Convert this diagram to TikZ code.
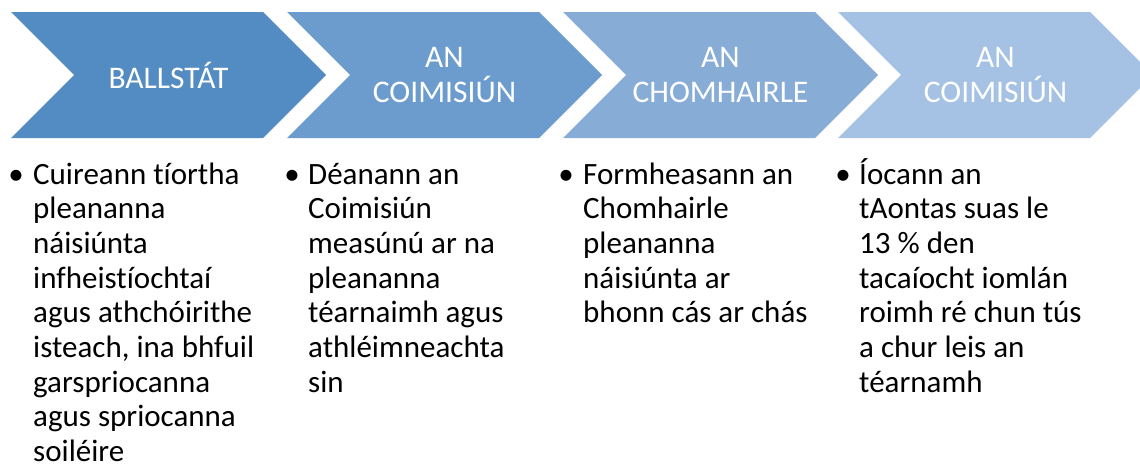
\documentclass[tikz,border=0pt]{standalone}
\usepackage{fontspec}
\setmainfont{Carlito}[Ligatures=NoCommon]
\usetikzlibrary{shapes.symbols}
\definecolor{stepone}{HTML}{538CC2}
\definecolor{steptwo}{HTML}{6B9CCD}
\definecolor{stepthree}{HTML}{87ACD6}
\definecolor{stepfour}{HTML}{A5C1E3}
\tikzstyle{chevron} = [signal, signal to=east, signal from=west, signal pointer angle=90, minimum width=315pt, minimum height=126pt, inner sep=0pt, text=white, align=center, font=\fontsize{31.5}{35}\selectfont]
\tikzstyle{bullet} = [anchor=base, inner sep=0pt, font=\fontsize{31}{34.7}\selectfont]
\tikzstyle{notes} = [anchor=base west, inner sep=0pt, align=left, font=\fontsize{31}{34.7}\selectfont]

\begin{document}
\begin{tikzpicture}[x=1pt, y=-1pt]

  \useasboundingbox (0,0) rectangle (1140,463);

  \node (ballstat) [chevron, fill=stepone] at (168.5,75) {BALLSTÁT};
  \node (coimisiun) [chevron, fill=steptwo] at (444.5,75) {AN\\COIMISIÚN};
  \node (chomhairle) [chevron, fill=stepthree] at (720.5,75) {AN\\CHOMHAIRLE};
  \node (coimisiuntwo) [chevron, fill=stepfour] at (995.5,75) {AN\\COIMISIÚN};

  % the notes are placed by the baseline of their last line
  \node (dotone) [bullet] at (16,184) {•};
  \node (noteone) [notes] at (33,461.6) {Cuireann tíortha\\pleananna\\náisiúnta\\infheistíochtaí\\agus athchóirithe\\isteach, ina bhfuil\\garspriocanna\\agus spriocanna\\soiléire};

  \node (dottwo) [bullet] at (292,184) {•};
  \node (notetwo) [notes] at (308,392.2) {Déanann an\\Coimisiún\\measúnú ar na\\pleananna\\téarnaimh agus\\athléimneachta\\sin};

  \node (dotthree) [bullet] at (566,184) {•};
  \node (notethree) [notes] at (583,322.8) {Formheasann an\\Chomhairle\\pleananna\\náisiúnta ar\\bhonn cás ar chás};

  \node (dotfour) [bullet] at (843,184) {•};
  \node (notefour) [notes] at (859,392.2) {Íocann an\\tAontas suas le\\13 \% den\\tacaíocht iomlán\\roimh ré chun tús\\a chur leis an\\téarnamh};

\end{tikzpicture}
\end{document}
